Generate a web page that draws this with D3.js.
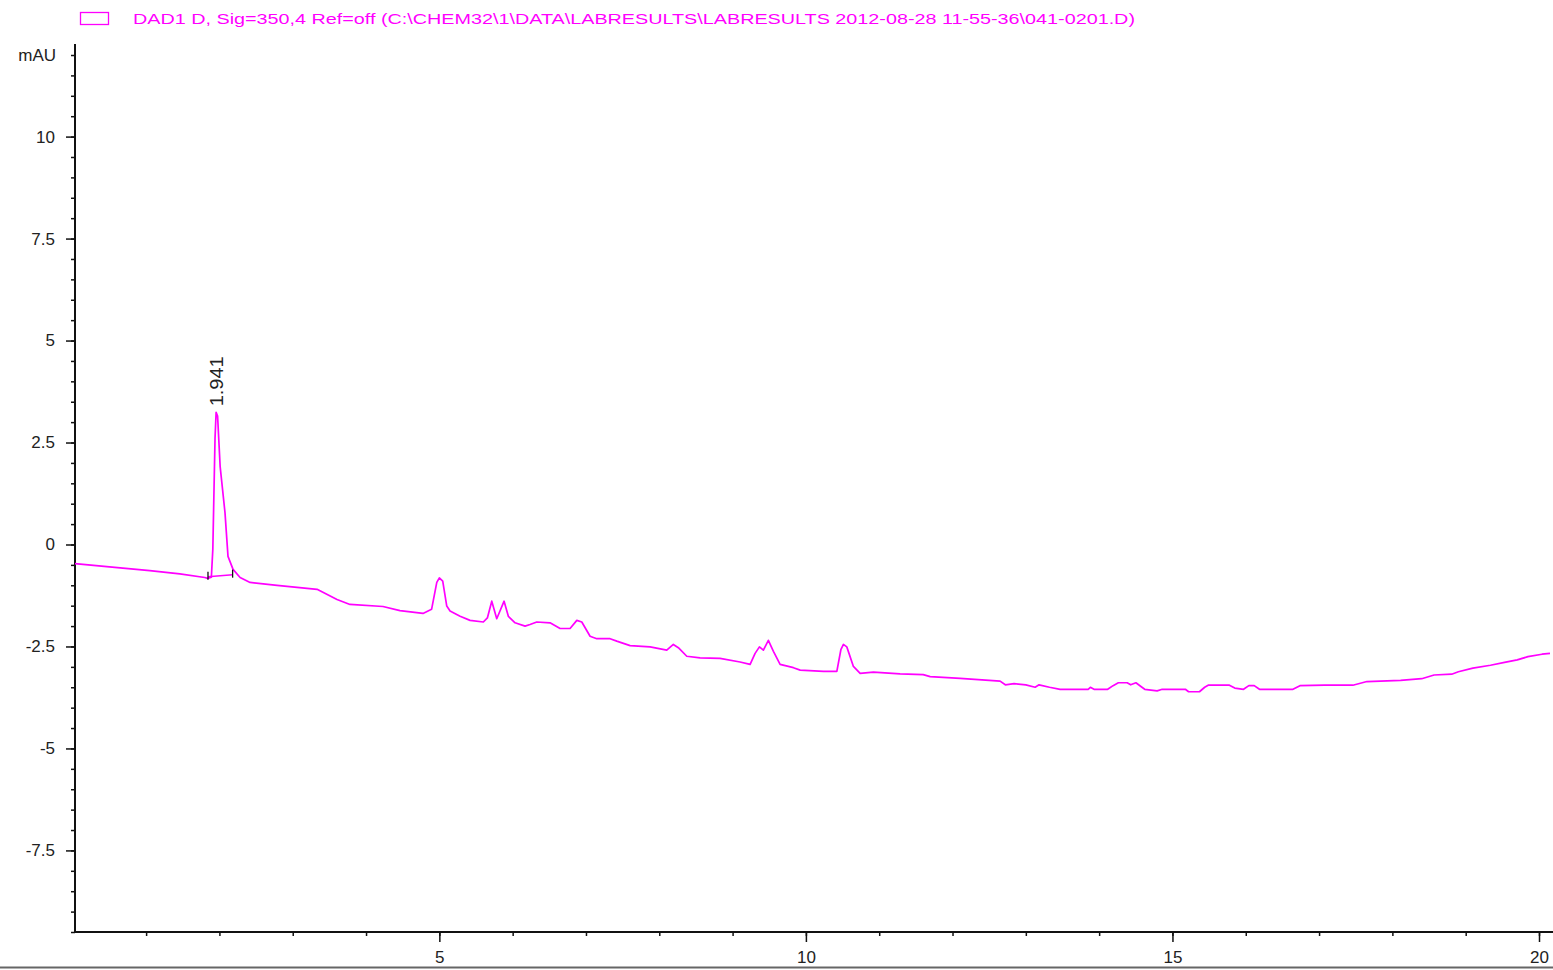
<!DOCTYPE html>
<html>
<head>
<meta charset="utf-8">
<script src="https://cdn.jsdelivr.net/npm/d3@7"></script>
<style>
  html, body { margin: 0; padding: 0; background: #fff; }
  svg { display: block; }
  text { font-family: "Liberation Sans", Arial, sans-serif; }
</style>
</head>
<body>
<div id="chart"></div>
<script>
// signal title shown in the legend
const signalTitle = "DAD1 D, Sig=350,4 Ref=off (C:\\CHEM32\\1\\DATA\\LABRESULTS\\LABRESULTS 2012-08-28 11-55-36\\041-0201.D)";

// chromatogram trace: [time (min), signal (mAU)]
const trace = [
    [0.03, -0.47], [0.5, -0.55], [1.05, -0.64], [1.46, -0.72], [1.80, -0.81],
    [1.84, -0.83], [1.89, -0.80], [1.91, -0.12], [1.94, 2.6], [1.955, 3.24],
    [1.975, 3.15], [2.01, 1.91], [2.076, 0.78], [2.117, -0.29], [2.186, -0.61],
    [2.282, -0.81], [2.418, -0.93], [2.786, -1.0], [3.332, -1.10], [3.604, -1.35],
    [3.781, -1.47], [4.231, -1.52], [4.463, -1.62], [4.777, -1.69], [4.894, -1.59],
    [4.965, -0.93], [5.0, -0.82], [5.046, -0.90], [5.101, -1.51], [5.146, -1.63],
    [5.283, -1.76], [5.419, -1.86], [5.6, -1.90], [5.655, -1.80], [5.715, -1.39],
    [5.783, -1.82], [5.883, -1.39], [5.941, -1.76], [6.033, -1.92], [6.169, -2.00],
    [6.237, -1.96], [6.329, -1.90], [6.51, -1.92], [6.647, -2.06], [6.783, -2.06],
    [6.875, -1.86], [6.943, -1.90], [7.056, -2.25], [7.147, -2.31], [7.329, -2.31],
    [7.42, -2.37], [7.602, -2.48], [7.875, -2.51], [8.102, -2.59], [8.192, -2.45],
    [8.26, -2.53], [8.375, -2.74], [8.556, -2.78], [8.829, -2.79], [9.102, -2.88],
    [9.239, -2.94], [9.307, -2.67], [9.366, -2.51], [9.42, -2.59], [9.488, -2.35],
    [9.557, -2.62], [9.648, -2.94], [9.83, -3.02], [9.922, -3.08], [10.24, -3.11],
    [10.422, -3.11], [10.477, -2.58], [10.512, -2.45], [10.558, -2.51], [10.648, -2.99],
    [10.74, -3.16], [10.921, -3.13], [11.285, -3.17], [11.6, -3.19], [11.695, -3.24],
    [12.104, -3.28], [12.649, -3.35], [12.72, -3.44], [12.84, -3.41], [13.0, -3.44],
    [13.127, -3.50], [13.18, -3.44], [13.323, -3.50], [13.468, -3.55], [13.85, -3.55],
    [13.88, -3.50], [13.93, -3.55], [14.117, -3.55], [14.19, -3.46], [14.262, -3.39],
    [14.382, -3.39], [14.43, -3.44], [14.502, -3.39], [14.57, -3.48], [14.622, -3.55],
    [14.791, -3.59], [14.86, -3.55], [15.176, -3.55], [15.22, -3.61], [15.368, -3.61],
    [15.44, -3.50], [15.487, -3.45], [15.777, -3.45], [15.85, -3.52], [15.97, -3.55],
    [16.042, -3.46], [16.115, -3.46], [16.187, -3.55], [16.644, -3.55], [16.739, -3.46],
    [17.076, -3.45], [17.461, -3.45], [17.653, -3.36], [18.112, -3.33], [18.4, -3.29],
    [18.569, -3.20], [18.809, -3.18], [18.9, -3.12], [19.098, -3.03], [19.338, -2.96],
    [19.53, -2.89], [19.703, -2.83], [19.849, -2.75], [20.041, -2.69], [20.15, -2.67]
];

// integrated peak: retention time label and baseline start/end
const peakLabels = [{time: 1.941, top: 3.24}];
const peakBaseline = [[1.844, -0.79], [2.18, -0.74]];

const yMajorTicks = [-7.5, -5, -2.5, 0, 2.5, 5, 7.5, 10];
const yMinorTicks = d3.range(-9.5, 12.01, 0.5);
const xMajorTicks = [5, 10, 15, 20];
const xMinorTicks = d3.range(1, 21, 1);

const width = 1553;
const height = 970;
const plot = {left: 75, right: 1550, top: 44, bottom: 932};
const color = "#ff00ff";
const labelSize = 17;

function main() {
    const svg = d3.select("#chart")
        .append("svg")
        .attr("width", width)
        .attr("height", height);

    const x = d3.scaleLinear()
        .domain([0.03, 20.15])
        .range([plot.left, plot.right]);

    const y = d3.scaleLinear()
        .domain([-9.5, 12.27])
        .range([plot.bottom, plot.top]);

    // legend
    svg.append("rect")
        .attr("x", 80.5).attr("y", 12.5)
        .attr("width", 28).attr("height", 12)
        .attr("fill", "none")
        .attr("stroke", color)
        .attr("stroke-width", 1.3);

    svg.append("text")
        .attr("x", 133).attr("y", 24)
        .attr("fill", color)
        .attr("font-size", 14)
        .attr("textLength", 1002)
        .attr("lengthAdjust", "spacingAndGlyphs")
        .text(signalTitle);

    // y axis: minor ticks first, then the labelled ones on top
    svg.append("g")
        .attr("transform", `translate(${plot.left},0)`)
        .call(d3.axisLeft(y).tickValues(yMinorTicks).tickSize(4).tickFormat(""))
        .call(g => g.select(".domain").remove())
        .call(g => g.selectAll("line").attr("stroke", "#111").attr("stroke-width", 1.5));

    svg.append("g")
        .attr("transform", `translate(${plot.left},0)`)
        .call(d3.axisLeft(y).tickValues(yMajorTicks).tickSize(9).tickPadding(11)
            .tickFormat(d => String(d)))
        .call(g => g.select(".domain").remove())
        .call(g => g.selectAll("line").attr("stroke", "#111").attr("stroke-width", 1.5))
        .call(g => g.selectAll("text")
            .attr("font-family", "Liberation Sans, Arial, sans-serif")
            .attr("font-size", labelSize)
            .attr("fill", "#222"));

    svg.append("text")
        .attr("x", 56).attr("y", y(12) + 6)
        .attr("text-anchor", "end")
        .attr("font-size", 17)
        .attr("fill", "#222")
        .text("mAU");

    // x axis
    svg.append("g")
        .attr("transform", `translate(0,${plot.bottom})`)
        .call(d3.axisBottom(x).tickValues(xMinorTicks).tickSize(4).tickFormat(""))
        .call(g => g.select(".domain").remove())
        .call(g => g.selectAll("line").attr("stroke", "#111").attr("stroke-width", 1.5));

    svg.append("g")
        .attr("transform", `translate(0,${plot.bottom})`)
        .call(d3.axisBottom(x).tickValues(xMajorTicks).tickSize(10).tickPadding(9)
            .tickFormat(d => String(d)))
        .call(g => g.select(".domain").remove())
        .call(g => g.selectAll("line").attr("stroke", "#111").attr("stroke-width", 1.5))
        .call(g => g.selectAll("text")
            .attr("font-family", "Liberation Sans, Arial, sans-serif")
            .attr("font-size", labelSize)
            .attr("fill", "#222"));

    // axis lines
    svg.append("line")
        .attr("x1", plot.left).attr("x2", plot.left)
        .attr("y1", plot.top).attr("y2", plot.bottom + 1)
        .attr("stroke", "#111").attr("stroke-width", 2);
    svg.append("line")
        .attr("x1", plot.left - 1).attr("x2", width)
        .attr("y1", plot.bottom).attr("y2", plot.bottom)
        .attr("stroke", "#111").attr("stroke-width", 2);

    // trace
    const line = d3.line()
        .x(d => x(d[0]))
        .y(d => y(d[1]));

    svg.append("path")
        .datum(trace)
        .attr("fill", "none")
        .attr("stroke", color)
        .attr("stroke-width", 1.7)
        .attr("stroke-linejoin", "round")
        .attr("d", line);

    // integration baseline and its tick marks
    svg.append("path")
        .datum(peakBaseline)
        .attr("fill", "none")
        .attr("stroke", color)
        .attr("stroke-width", 1.4)
        .attr("d", line);

    svg.selectAll(".bl-tick")
        .data(peakBaseline)
        .enter()
        .append("line")
        .attr("class", "bl-tick")
        .attr("x1", d => x(d[0])).attr("x2", d => x(d[0]))
        .attr("y1", d => y(d[1]) - 5).attr("y2", d => y(d[1]) + 3)
        .attr("stroke", "#111")
        .attr("stroke-width", 1.3);

    // retention time label, reads bottom to top
    svg.selectAll(".peak-label")
        .data(peakLabels)
        .enter()
        .append("text")
        .attr("class", "peak-label")
        .attr("transform", d => `translate(${x(d.time) + 8},${y(d.top) - 6}) rotate(-90)`)
        .attr("font-size", 18)
        .attr("textLength", 50)
        .attr("lengthAdjust", "spacingAndGlyphs")
        .attr("fill", "#222")
        .text(d => d.time.toFixed(3));

    // window border at the bottom
    svg.append("line")
        .attr("x1", 0).attr("x2", width)
        .attr("y1", 967.5).attr("y2", 967.5)
        .attr("stroke", "#666")
        .attr("stroke-width", 2);
}

main();
</script>
</body>
</html>
